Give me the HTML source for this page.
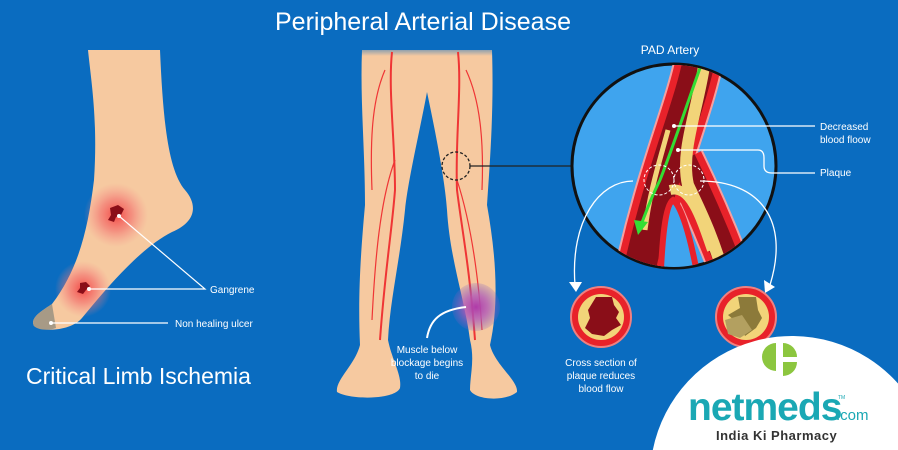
<!DOCTYPE html>
<html><head><meta charset="utf-8"><style>
html,body{margin:0;padding:0;background:#0a6cc0;width:898px;height:450px;overflow:hidden;}
svg{display:block;font-family:"Liberation Sans",sans-serif;overflow:hidden;}
</style></head><body>
<svg width="898" height="450" viewBox="0 0 898 450">
<defs>
<radialGradient id="rg"><stop offset="0" stop-color="#f23b3b" stop-opacity=".9"/><stop offset=".5" stop-color="#f36a6a" stop-opacity=".6"/><stop offset="1" stop-color="#f58a8a" stop-opacity="0"/></radialGradient>
<radialGradient id="pg"><stop offset="0" stop-color="#b03aa8"/><stop offset=".5" stop-color="#b05ab8" stop-opacity=".8"/><stop offset="1" stop-color="#8060c0" stop-opacity=".2"/></radialGradient>
<clipPath id="cc"><circle cx="674" cy="166" r="101"/></clipPath>
<linearGradient id="tf" x1="0" y1="0" x2="0" y2="1"><stop offset="0" stop-color="#0a6cc0"/><stop offset="1" stop-color="#0a6cc0" stop-opacity="0"/></linearGradient>
</defs>
<rect width="898" height="450" fill="#0a6cc0"/>
<text x="423" y="30" font-size="25" fill="#fff" text-anchor="middle">Peripheral Arterial Disease</text>

<!-- foot -->
<path d="M88,50 L160,50 C163,120 168,170 185,190 C198,205 196,222 172,232 C140,248 105,290 82,318 C72,330 45,333 34,326 C30,318 40,312 52,304 C78,270 88,230 94,180 C98,120 91,80 88,50 Z" fill="#f6c9a0"/>
<path d="M34,326 C30,318 40,312 52,304 L56,328 C48,331 38,330 34,326Z" fill="#a79a86"/>
<circle cx="116" cy="215" r="32" fill="url(#rg)"/>
<circle cx="83" cy="289" r="28" fill="url(#rg)"/>
<path d="M110,208 l8,-3 l6,4 l-3,6 l-5,2 l-2,5 l-6,-2 l3,-5 Z" fill="#8a0e18"/>
<path d="M80,283 l6,-1 l4,4 l-4,4 l-3,4 l-6,-2 l3,-4 Z" fill="#8a0e18"/>
<g stroke="#fff" stroke-width="1.2" fill="none">
<path d="M119,216 L205,289 L90,289"/><path d="M51,323 L168,323"/></g>
<circle cx="119" cy="216" r="2" fill="#fff"/><circle cx="89" cy="289" r="2" fill="#fff"/><circle cx="51" cy="323" r="2" fill="#fff"/>
<text x="210" y="293" font-size="10" fill="#fff">Gangrene</text>
<text x="175" y="327" font-size="10" fill="#fff">Non healing ulcer</text>
<text x="26" y="384" font-size="23" fill="#fff">Critical Limb Ischemia</text>

<!-- legs -->
<path d="M362,50 L427,50 L427,92 C420,130 408,180 405,210 C400,260 390,300 388,340 C392,360 402,375 400,388 C395,400 350,400 337,392 C335,380 355,365 360,345 C358,300 360,260 365,205 C365,150 360,100 362,50Z" fill="#f6c9a0"/>
<path d="M427,50 L492,50 C494,110 490,160 487,205 C495,250 500,300 490,345 C495,365 518,380 517,392 C505,402 475,400 470,390 C470,375 475,360 470,340 C465,300 450,260 447,210 C445,180 435,130 427,92Z" fill="#f6c9a0"/>
<rect x="355" y="42" width="145" height="14" fill="url(#tf)"/>
<g stroke="#ef3535" stroke-width="2" fill="none">
<path d="M392,52 C388,90 395,140 395,190 C392,230 385,270 380,340"/>
<path d="M395,160 C380,200 375,260 372,320" stroke-width="1.2"/>
<path d="M385,70 C372,100 370,140 372,190" stroke-width="1.2"/>
<path d="M458,52 C462,90 455,140 457,190 C462,230 470,270 475,340"/>
<path d="M457,180 C470,220 478,270 482,330" stroke-width="1.2"/>
<path d="M466,70 C480,100 484,140 482,190" stroke-width="1.2"/>
</g>
<circle cx="476" cy="307" r="24" fill="url(#pg)"/>
<path d="M427,338 C430,320 440,310 466,307" stroke="#fff" stroke-width="2" fill="none"/>
<text font-size="10" fill="#fff" text-anchor="middle"><tspan x="427" y="353">Muscle below</tspan><tspan x="427" y="366">blockage begins</tspan><tspan x="427" y="379">to die</tspan></text>
<circle cx="456" cy="166" r="14" fill="none" stroke="#222" stroke-width="1.3" stroke-dasharray="3,2"/>
<line x1="470" y1="166" x2="573" y2="166" stroke="#222" stroke-width="1.3"/>

<!-- artery circle -->
<text x="670" y="54" font-size="12" fill="#fff" text-anchor="middle">PAD Artery</text>
<circle cx="674" cy="166" r="102" fill="#3fa4ee" stroke="#111" stroke-width="3"/>
<g clip-path="url(#cc)" fill="none" stroke-linecap="butt">
<path d="M700,55 C690,110 660,170 635,290" stroke="#f6a0a0" stroke-width="50"/>
<path d="M683,160 C700,195 718,235 738,290" stroke="#f6a0a0" stroke-width="44"/>
<path d="M700,55 C690,110 660,170 635,290" stroke="#e8222a" stroke-width="46"/>
<path d="M683,160 C700,195 718,235 738,290" stroke="#e8222a" stroke-width="40"/>
<path d="M700,55 C690,110 660,170 635,290" stroke="#8a0e18" stroke-width="32"/>
<path d="M683,160 C700,195 718,235 738,290" stroke="#8a0e18" stroke-width="26"/>
<path d="M705,60 C698,110 680,150 688,185 C700,210 715,240 728,290" stroke="#f2d479" stroke-width="12"/>
<path d="M668,130 C660,160 650,190 645,230" stroke="#f2d479" stroke-width="5"/>
<path d="M670,190 C690,185 700,215 712,250" stroke="#f2d479" stroke-width="10"/>
<path d="M673,200 C680,205 690,230 700,290 L660,290 C662,240 665,205 673,200Z" fill="#3fa4ee" stroke="#e8222a" stroke-width="6"/>
<path d="M700,68 C685,110 672,150 660,180 C650,200 645,215 641,225" stroke="#33dd33" stroke-width="3"/>
</g>
<path d="M634,220 L648,222 L638,235Z" fill="#33dd33"/>
<circle cx="659" cy="180" r="15" fill="none" stroke="#fff" stroke-dasharray="3,2"/>
<circle cx="689" cy="180" r="15" fill="none" stroke="#fff" stroke-dasharray="3,2"/>
<g stroke="#fff" stroke-width="1.3" fill="none">
<path d="M674,126 L815,126"/><path d="M678,150 L758,150 Q764,150 764,158 L764,166 Q764,173 772,173 L815,173"/>
<path d="M633,181 C600,181 570,220 575,285"/><path d="M700,181 C760,181 790,220 770,285"/></g>
<path d="M569,282 L582,282 L576,292Z" fill="#fff"/><path d="M764,280 L775,287 L765,293Z" fill="#fff"/>
<circle cx="674" cy="126" r="2" fill="#fff"/><circle cx="678" cy="150" r="2" fill="#fff"/>
<text font-size="10" fill="#fff"><tspan x="820" y="130">Decreased</tspan><tspan x="820" y="143">blood floow</tspan><tspan x="820" y="176">Plaque</tspan></text>

<!-- cross sections -->
<circle cx="601" cy="317" r="30" fill="#e8222a" stroke="#f08080" stroke-width="2"/>
<circle cx="601" cy="317" r="23" fill="#f2d479"/>
<path d="M596,297 L612,297 L614,305 L619,312 L616,318 L621,325 L612,330 L604,336 L592,334 L585,328 L590,318 L588,310 Z" fill="#8a0e18"/>
<circle cx="746" cy="317" r="30" fill="#e8222a" stroke="#f08080" stroke-width="2"/>
<circle cx="746" cy="317" r="23" fill="#f2d479"/>
<path d="M738,297 L756,297 L758,310 L762,318 L756,328 L745,336 L740,325 L728,315 L740,308Z" fill="#8c7a3a"/>
<path d="M725,320 L742,315 L752,330 L740,338 L728,334Z" fill="#b3a060"/>
<text font-size="10" fill="#fff" text-anchor="middle"><tspan x="601" y="366">Cross section of</tspan><tspan x="601" y="379">plaque reduces</tspan><tspan x="601" y="392">blood flow</tspan></text>

<!-- logo -->
<path d="M652.8,450 A142,142 0 0,1 898,383.5 L898,450 Z" fill="#fff"/>
<path d="M776,343 a14,14 0 1,0 0,28 Z" fill="#8cc63f"/>
<path d="M783,343 a14,14 0 0,1 14,14 h-14 Z" fill="#8cc63f"/>
<path d="M783,362 h14 a14,14 0 0,1 -14,14 Z" fill="#8cc63f"/>
<text x="688" y="420" font-size="39" font-weight="bold" fill="#1aa8b4" letter-spacing="-1">netmeds</text>
<text x="836" y="420" font-size="15" fill="#1aa8b4">.com</text>
<text x="838" y="399" font-size="5" fill="#1aa8b4">TM</text>
<text x="716" y="440" font-size="13" font-weight="bold" fill="#333" letter-spacing="0.5">India Ki Pharmacy</text>
</svg>
</body></html>
